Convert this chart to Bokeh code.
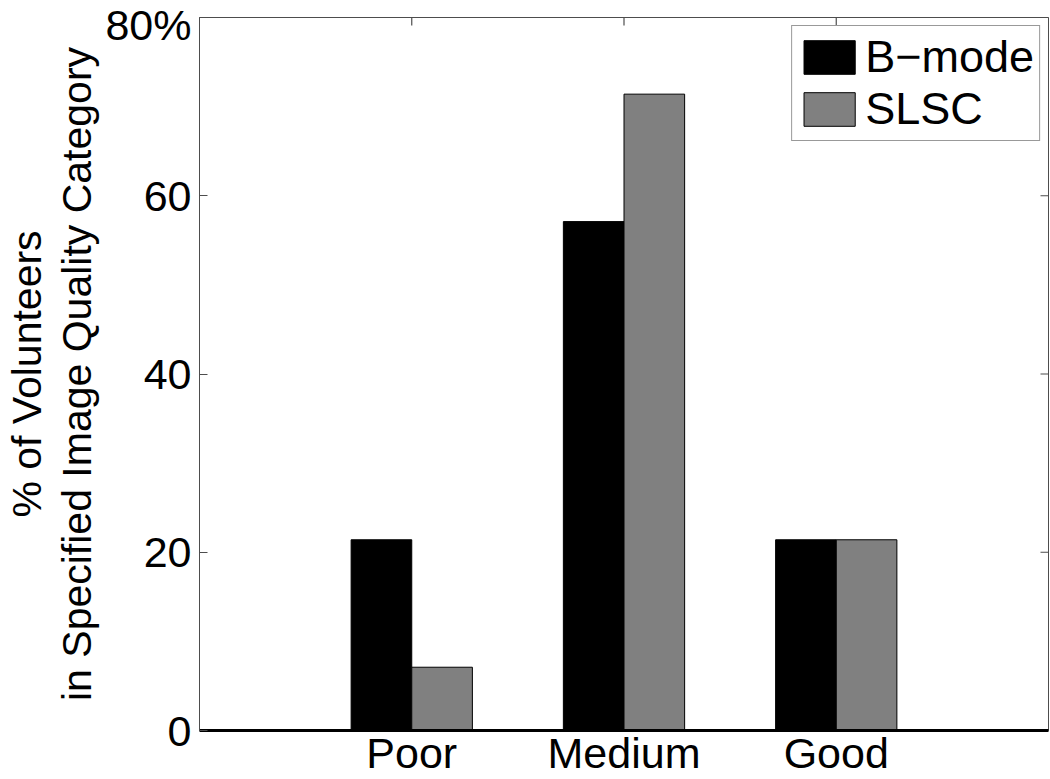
import math
from bokeh.plotting import figure
from bokeh.models import Range1d, FixedTicker, Legend, LegendItem, ColumnDataSource
from bokeh.embed import file_html
from bokeh.resources import INLINE

categories = ["Poor", "Medium", "Good"]
bmode = [21.4, 57.1, 21.4]
slsc = [7.1, 71.4, 21.4]
y_ticks = [0, 20, 40, 60, 80]
y_tick_labels = ["0", "20", "40", "60", "80%"]
series_names = ["B\u2212mode", "SLSC"]

FONT = "Liberation Sans"
positions = list(range(1, len(categories) + 1))
bar_w = 0.2857
X_MIN, X_MAX = 0, len(categories) + 1
Y_MIN, Y_MAX = y_ticks[0], y_ticks[-1]

src = ColumnDataSource(dict(
    xb=[x - bar_w / 2 for x in positions],
    xs=[x + bar_w / 2 for x in positions],
    b=bmode, s=slsc,
))

p = figure(width=1050, height=779, output_backend="svg", toolbar_location=None,
           x_range=Range1d(X_MIN, X_MAX), y_range=Range1d(Y_MIN, Y_MAX),
           min_border_left=199, min_border_top=17, min_border_right=2, min_border_bottom=0)

r1 = p.vbar(x="xb", top="b", width=bar_w, bottom=0, source=src,
            fill_color="black", line_color="black", line_width=1)
r2 = p.vbar(x="xs", top="s", width=bar_w, bottom=0, source=src,
            fill_color="#808080", line_color="black", line_width=1)

# mirrored inward ticks on top and right edges (half of each dash is clipped by the frame)
p.scatter(x=positions, y=[Y_MAX] * len(positions), marker="dash", size=16, angle=math.pi / 2,
          line_color="#4d4d4d", line_width=1.2)
p.scatter(x=[X_MAX] * len(y_ticks), y=y_ticks, marker="dash", size=16,
          line_color="#4d4d4d", line_width=1.2)

p.xgrid.visible = False
p.ygrid.visible = False
p.outline_line_color = "#4d4d4d"
p.outline_line_width = 1

# bottom x axis (categories)
xa = p.xaxis[0]
xa.ticker = FixedTicker(ticks=positions)
xa.major_label_overrides = {pos: c for pos, c in zip(positions, categories)}
xa.major_tick_in = 0
xa.major_tick_out = 0
xa.minor_tick_line_color = None
xa.axis_line_width = 3
xa.axis_line_color = "black"
xa.major_label_text_font = FONT
xa.major_label_text_font_size = "43px"
xa.major_label_text_color = "black"
xa.major_label_standoff = -2

# left y axis
ya = p.yaxis[0]
ya.ticker = FixedTicker(ticks=y_ticks)
ya.major_label_overrides = {t: l for t, l in zip(y_ticks, y_tick_labels)}
ya.major_tick_in = 8
ya.major_tick_out = 0
ya.major_tick_line_color = "#4d4d4d"
ya.minor_tick_line_color = None
ya.axis_line_color = "#4d4d4d"
ya.major_label_text_font = FONT
ya.major_label_text_font_size = "43px"
ya.major_label_text_color = "black"
ya.major_label_standoff = 8
ya.axis_label = "% of Volunteers\nin Specified Image Quality Category"
ya.axis_label_text_font = FONT
ya.axis_label_text_font_size = "41px"
ya.axis_label_text_font_style = "normal"
ya.axis_label_text_color = "black"
ya.axis_label_standoff = 2
ya.axis_label_text_line_height = 1.1

legend = Legend(items=[LegendItem(label=series_names[0], renderers=[r1]),
                       LegendItem(label=series_names[1], renderers=[r2])],
                location="top_right")
legend.label_text_font = FONT
legend.label_text_font_size = "45px"
legend.label_text_color = "black"
legend.glyph_width = 64
legend.glyph_height = 42
legend.spacing = 0
legend.padding = 5
legend.margin = 8
legend.label_standoff = 4
legend.border_line_color = "#333333"
legend.border_line_width = 1
legend.background_fill_color = "white"
legend.background_fill_alpha = 1
p.add_layout(legend)

open("out.html", "w").write(file_html(p, INLINE))
